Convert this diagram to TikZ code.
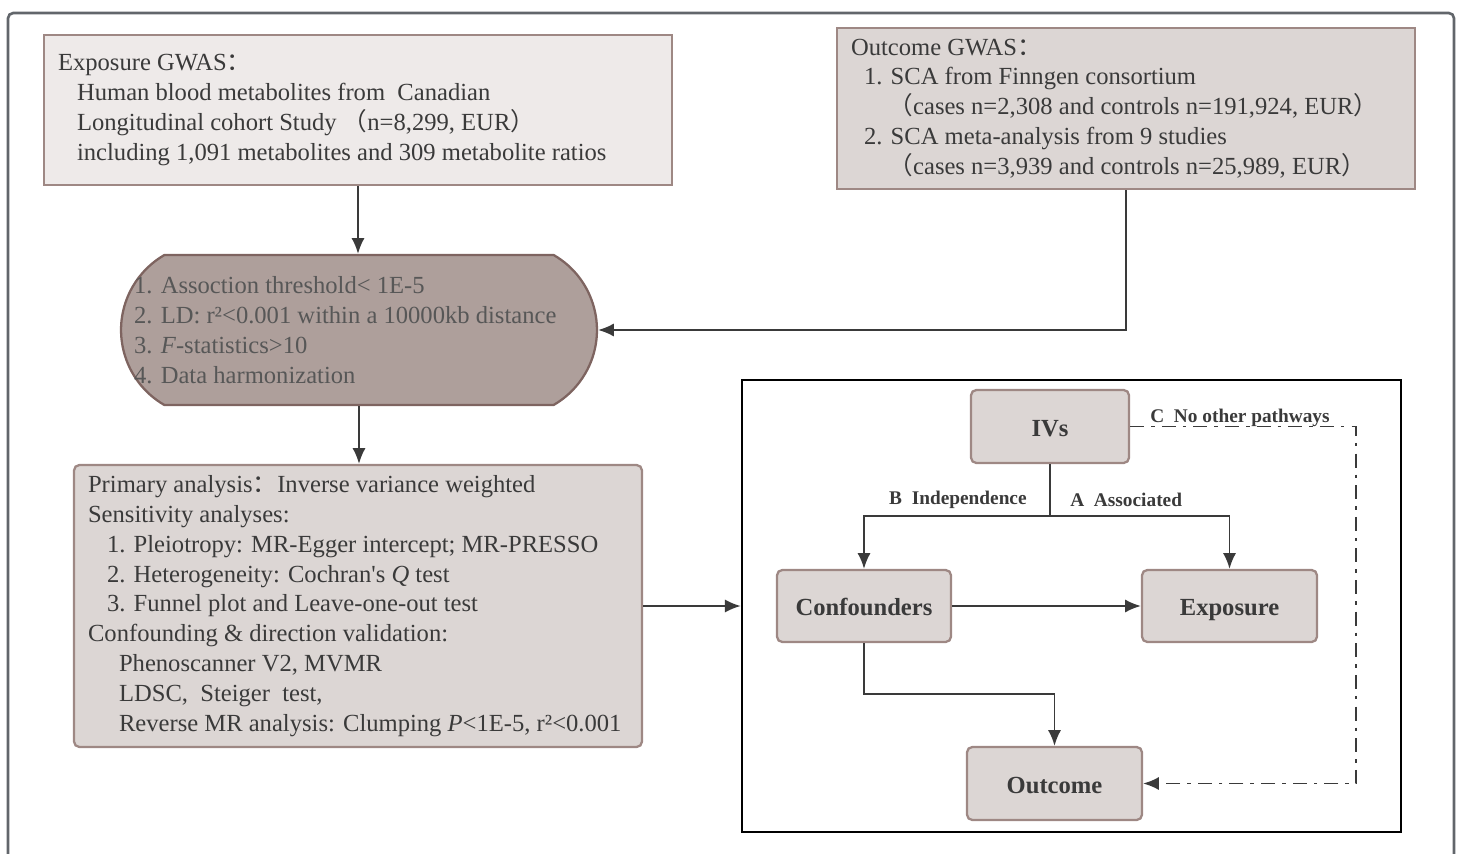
\documentclass[tikz,border=0pt]{standalone}
\usepackage{fontspec}
\usepackage{tikz}
\usetikzlibrary{arrows.meta,shapes.misc}
\setmainfont{Liberation Serif}
\newfontfamily\cjk{Noto Sans CJK SC}
\newcommand\boxfont{\fontsize{14}{17}\selectfont\lineskiplimit-50pt\relax}

\definecolor{expofill}{HTML}{EEEAE9}
\definecolor{greyfill}{HTML}{DCD6D4}
\definecolor{filtfill}{HTML}{AE9F9B}
\definecolor{filtline}{HTML}{7E6460}
\definecolor{boxline}{HTML}{9E8884}
\definecolor{textgray}{HTML}{3A3A3A}
\definecolor{framegray}{HTML}{62666B}

\begin{document}
\begin{tikzpicture}[x=0.02cm,y=-0.02cm]

\tikzset{box/.style = {shape=rectangle,draw=boxline,line width=1.3pt,align=flush left,inner sep=0pt,
  text=textgray,font=\boxfont}}
\tikzset{factor/.style = {shape=rectangle,rounded corners=3pt,draw=boxline,line width=1.3pt,fill=greyfill,
  minimum width=3.5cm,minimum height=1.46cm,text height=12pt,text depth=1pt,
  text=textgray,font=\bfseries\fontsize{14}{17}\selectfont}}
\tikzset{pathlbl/.style = {inner sep=0pt,text=textgray,font=\bfseries\fontsize{11}{13}\selectfont}}
\tikzset{edge/.style = {-{Latex[length=9pt,width=7.5pt]},line width=1.1pt,draw=textgray}}
\tikzset{pathway/.style = {edge,dash pattern=on 8pt off 4pt on 2pt off 4pt}}

\useasboundingbox (0,0) rectangle (1459,854);
\draw[framegray,line width=1.5pt,rounded corners=3pt] (8,13) rectangle (1454,880);

% boxes
\node[box,fill=expofill,minimum width=12.56cm,minimum height=3cm,text width=12cm] (expo) at (358,110)
  {Exposure GWAS{\cjk ：}\\
   \hspace*{0.38cm}Human blood metabolites from\ \ Canadian\\
   \hspace*{0.38cm}Longitudinal cohort Study {\cjk （}n=8,299, EUR{\cjk ）}\\
   \hspace*{0.38cm}including 1,091 metabolites and 309 metabolite ratios};
\node[box,fill=greyfill,minimum width=11.56cm,minimum height=3.22cm,text width=11cm] (outc) at (1126,108.5)
  {Outcome GWAS{\cjk ：}\\
   \hspace*{0.26cm}1. SCA from Finngen consortium\\
   \hspace*{0.75cm}{\cjk （}cases n=2,308 and controls n=191,924, EUR{\cjk ）}\\
   \hspace*{0.26cm}2. SCA meta-analysis from 9 studies\\
   \hspace*{0.75cm}{\cjk （}cases n=3,939 and controls n=25,989, EUR{\cjk ）}};
\node[shape=rounded rectangle,rounded rectangle arc length=120,draw=filtline,line width=1.3pt,fill=filtfill,
  minimum width=9.52cm,minimum height=3cm,inner sep=0pt] (filt) at (359,330) {};
\node[box,draw=none,anchor=west,text=textgray!85] (filtlbl) at (133,330)
  {1. Assoction threshold< 1E-5\\
   2. LD: r²<0.001 within a 10000kb distance\\
   3. \textit{F}-statistics>10\\
   4. Data harmonization};
\node[box,fill=greyfill,rounded corners=3pt,minimum width=11.36cm,minimum height=5.64cm,text width=10.8cm] (anal) at (358,606)
  {Primary analysis{\cjk ：}Inverse variance weighted\\
   Sensitivity analyses:\\
   \hspace*{0.38cm}1. Pleiotropy: MR-Egger intercept; MR-PRESSO\\
   \hspace*{0.38cm}2. Heterogeneity: Cochran\textquotesingle s \textit{Q} test\\
   \hspace*{0.38cm}3. Funnel plot and Leave-one-out test\\
   Confounding \& direction validation:\\
   \hspace*{0.62cm}Phenoscanner V2, MVMR\\
   \hspace*{0.62cm}LDSC,\ \ Steiger\ \ test,\\
   \hspace*{0.62cm}Reverse MR analysis: Clumping \textit{P}<1E-5, r²<0.001};

% assumptions panel
\node[shape=rectangle,draw=black,line width=1.5pt,minimum width=13.18cm,minimum height=9.04cm] (panel) at (1071.5,606) {};
\node[factor,minimum width=3.16cm] (ivs) at (1050,426.5) {IVs};
\node[factor,minimum width=3.48cm,minimum height=1.44cm] (conf) at (864,606) {Confounders};
\node[factor,minimum height=1.44cm] (expn) at (1229.5,606) {Exposure};
\node[factor] (outn) at (1054.5,783.5) {Outcome};
\coordinate (split) at (1050,516);

\node[pathlbl,anchor=east] (lblb) at (1027,500) {B\ \ Independence};
\node[pathlbl,anchor=west] (lbla) at (1070,500) {A\ \ Associated};
\node[pathlbl,anchor=west] (lblc) at (1150,418) {C\ \ No other pathways};

%edges
\draw[edge] (expo.south) -- (expo.south |- filt.north);
\draw[edge] (outc.south) |- (filt.east);
\draw[edge] (filt.south) -- (filt.south |- anal.north);
\draw[edge] (anal.east) -- (panel.west);

\draw[edge,-] (ivs.south) -- (split);
\draw[edge] (split) -| (conf.north);
\draw[edge] (split) -| (expn.north);
\draw[edge] (conf.east) -- (expn.west);
\draw[edge] (conf.south) -- ++(0,51) -| (outn.north);
\draw[pathway] (ivs.east) -- ++(226,0) |- (outn.east);

\end{tikzpicture}
\end{document}
